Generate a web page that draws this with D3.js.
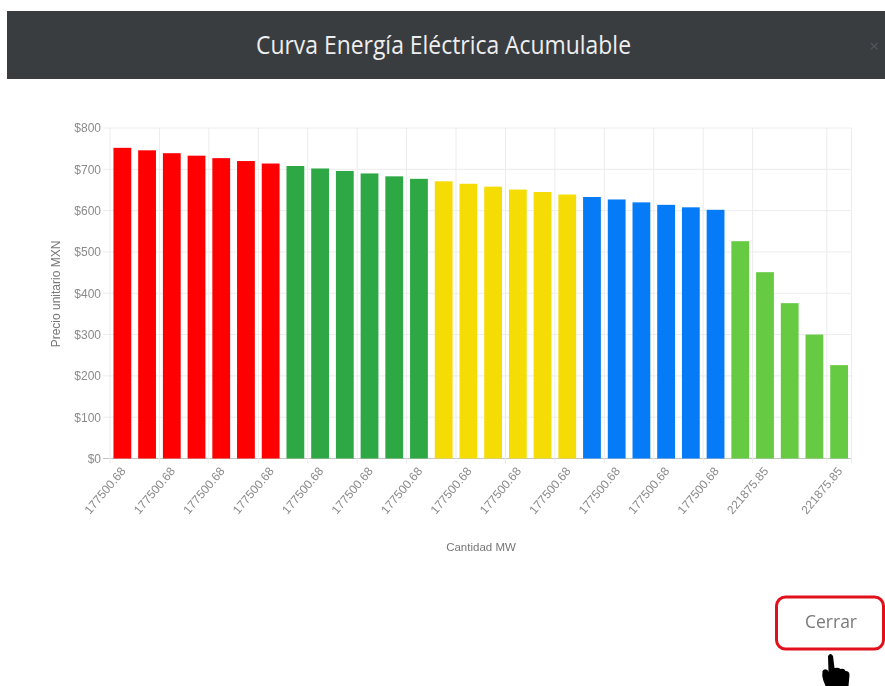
<!DOCTYPE html>
<html lang="es">
<head>
<meta charset="utf-8">
<title>Curva Energía Eléctrica Acumulable</title>
<script src="https://cdn.jsdelivr.net/npm/d3@7"></script>
<style>
  html, body { margin: 0; padding: 0; background: #fff; }
  svg { display: block; filter: blur(0.5px); }
  .axis text { font-family: "Liberation Sans", Arial, sans-serif; font-size: 12px; fill: #8a8a8a; }
  .axis-title { font-family: "Liberation Sans", Arial, sans-serif; fill: #777; }
</style>
</head>
<body>
<script>
'use strict';

// quantity offered per block, one label per bar
const quantities = [
  ...Array(25).fill('177500.68'),
  ...Array(5).fill('221875.85'),
];

const prices = [
  752, 746, 739, 733, 727, 720, 714,
  708, 702, 696, 690, 683, 677,
  671, 665, 658, 651, 645, 639,
  633, 627, 620, 614, 608, 602,
  526, 451, 376, 300, 226,
];

// how many consecutive bars take each colour
const blockSizes = [7, 6, 6, 6, 5];
const blockColors = ['#ff0000', '#2ea845', '#f5dc05', '#067bf8', '#66cb42'];

const yTicks = [0, 100, 200, 300, 400, 500, 600, 700, 800];
// the chart skips labels to fit them, the last one is always kept
const labelledBars = [0, 2, 4, 6, 8, 10, 12, 14, 16, 18, 20, 22, 24, 26, 29];

const width = 885;
const height = 686;
const margin = { top: 128, right: 33.5, bottom: 227.5, left: 110 };

const barColors = blockSizes.flatMap((n, i) => Array(n).fill(blockColors[i]));

const svg = d3.select('body').append('svg')
  .attr('width', width)
  .attr('height', height);

// modal header
svg.append('rect')
  .attr('x', 7).attr('y', 11)
  .attr('width', width - 7).attr('height', 68)
  .attr('fill', '#3a3d40');

svg.append('text')
  .attr('x', 443.5).attr('y', 54)
  .attr('text-anchor', 'middle')
  .attr('textLength', 375)
  .attr('lengthAdjust', 'spacingAndGlyphs')
  .style('font-family', '"Open Sans", sans-serif')
  .style('font-size', '26px')
  .style('fill', '#eeeeee')
  .text('Curva Energía Eléctrica Acumulable');

svg.append('text')
  .attr('x', 874).attr('y', 52)
  .attr('text-anchor', 'middle')
  .style('font-family', '"Open Sans", sans-serif')
  .style('font-size', '17px')
  .style('fill', '#55585b')
  .text('×');

// chart
const x = d3.scaleBand()
  .domain(d3.range(prices.length))
  .range([margin.left, width - margin.right])
  .paddingInner(0.28)
  .paddingOuter(0.14);

const y = d3.scaleLinear()
  .domain([0, 800])
  .range([height - margin.bottom, margin.top]);

const step = x.step();
const bandLeft = (i) => x(i) + x.bandwidth() / 2 - step / 2;

// grid first so the bars sit on top of it
svg.append('g')
  .selectAll('line')
  .data(yTicks)
  .join('line')
    .attr('x1', margin.left - 7)
    .attr('x2', width - margin.right)
    .attr('y1', (d) => y(d))
    .attr('y2', (d) => y(d))
    .attr('stroke', (d) => d === 0 ? '#c4c4c4' : '#ececec');

svg.append('g')
  .selectAll('line')
  .data(labelledBars.map(bandLeft).concat(width - margin.right))
  .join('line')
    .attr('x1', (d) => d)
    .attr('x2', (d) => d)
    .attr('y1', margin.top)
    .attr('y2', height - margin.bottom + 5)
    .attr('stroke', '#ececec');

svg.append('g')
  .selectAll('rect')
  .data(prices)
  .join('rect')
    .attr('x', (d, i) => x(i))
    .attr('y', (d) => y(d))
    .attr('width', x.bandwidth())
    .attr('height', (d) => y(0) - y(d))
    .attr('fill', (d, i) => barColors[i]);

// axes
const yAxis = d3.axisLeft(y)
  .tickValues(yTicks)
  .tickFormat((d) => `$${d}`)
  .tickSize(0)
  .tickPadding(9);

svg.append('g')
  .attr('class', 'axis')
  .attr('transform', `translate(${margin.left},0)`)
  .call(yAxis)
  .call((g) => g.select('.domain').remove());

const xAxis = d3.axisBottom(x)
  .tickValues(labelledBars)
  .tickFormat((i) => quantities[i])
  .tickSize(0)
  .tickPadding(0);

svg.append('g')
  .attr('class', 'axis')
  .attr('transform', `translate(0,${height - margin.bottom})`)
  .call(xAxis)
  .call((g) => g.select('.domain').remove())
  .selectAll('text')
    .attr('text-anchor', 'end')
    .attr('dy', 0)
    .attr('transform', 'translate(4,13) rotate(-50)');

svg.append('text')
  .attr('class', 'axis-title')
  .attr('transform', 'translate(60,294) rotate(-90)')
  .attr('text-anchor', 'middle')
  .style('font-size', '12px')
  .text('Precio unitario MXN');

svg.append('text')
  .attr('class', 'axis-title')
  .attr('x', 481).attr('y', 551)
  .attr('text-anchor', 'middle')
  .style('font-size', '11.5px')
  .text('Cantidad MW');

// close button with the red highlight
svg.append('rect')
  .attr('x', 776.5).attr('y', 597)
  .attr('width', 107).attr('height', 52)
  .attr('rx', 9)
  .attr('fill', '#fff')
  .attr('stroke', '#e2101c')
  .attr('stroke-width', 3);

svg.append('text')
  .attr('x', 831).attr('y', 628)
  .attr('text-anchor', 'middle')
  .style('font-family', '"Open Sans", sans-serif')
  .style('font-size', '17.5px')
  .style('fill', '#7a7a7a')
  .text('Cerrar');

// hand cursor
svg.append('path')
  .attr('d', 'M828 656 q2.5 -4 5 0 l1.5 12 q4 -1 6 1 q4 -1 5 2 q4 0 4 4 l-1 11 h-23 l-2 -5 q-2 -5 -1 -10 q2 -3 5 -1 l1 2 z')
  .attr('fill', '#000');
</script>
</body>
</html>
